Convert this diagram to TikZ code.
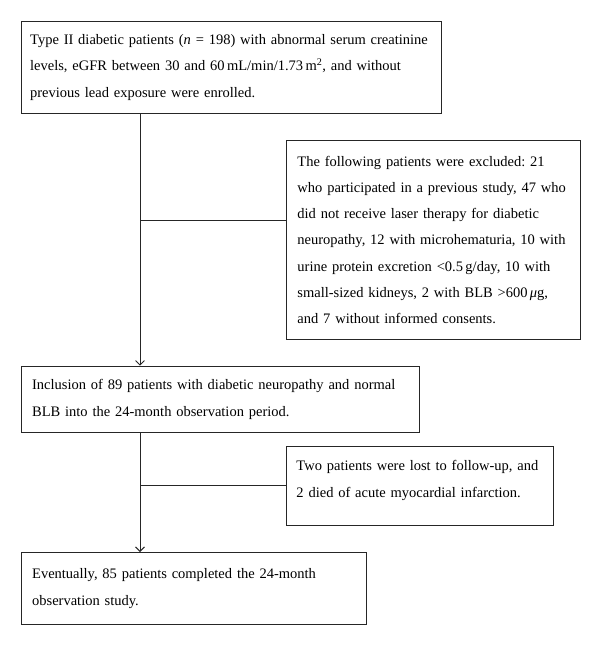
\documentclass[tikz,border=0pt]{standalone}
\usepackage{fontspec}
\setmainfont{Liberation Serif}
\usetikzlibrary{arrows.meta}

\tikzset{
  flowbox/.style={draw=black!85, line width=0.9pt, anchor=north west, align=left,
    inner xsep=11pt, inner ysep=0pt, font=\fontsize{14.5}{26.3}\selectfont\frenchspacing},
  flowline/.style={draw=black!85, line width=0.9pt},
  flowarrow/.style={flowline, -{Straight Barb[length=4.5pt,width=9pt,line width=0.9pt]}}
}

\begin{document}
\begin{tikzpicture}[x=1pt,y=-1pt]
    \useasboundingbox (0,0) rectangle (600,645);

    % boxes
    \node[flowbox, inner xsep=9pt, text width=402pt, minimum width=420pt, minimum height=92.3pt] (enrolled) at (20.7,20.7)
      {Type II diabetic patients (\textit{n} = 198) with abnormal serum creatinine\\
       levels, eGFR between 30 and 60\,mL/min/1.73\,m\textsuperscript{2}, and without\\
       previous lead exposure were enrolled.};
    \node[flowbox, text width=271.7pt, minimum width=293.7pt, minimum height=199pt] (excluded) at (286,140)
      {The following patients were excluded: 21\\
       who participated in a previous study, 47 who\\
       did not receive laser therapy for diabetic\\
       neuropathy, 12 with microhematuria, 10 with\\
       urine protein excretion <0.5\,g/day, 10 with\\
       small-sized kidneys, 2 with BLB >600\,\textit{μ}g,\\
       and 7 without informed consents.};
    \node[flowbox, text width=376.6pt, minimum width=398.6pt, minimum height=66.3pt] (included) at (20.7,365.7)
      {Inclusion of 89 patients with diabetic neuropathy and normal\\
       BLB into the 24-month observation period.};
    \node[flowbox, inner xsep=10pt, text width=246.7pt, minimum width=266.7pt, minimum height=79.3pt, text depth=40pt] (lost) at (286,445.7)
      {Two patients were lost to follow-up, and\\
       2 died of acute myocardial infarction.};
    \node[flowbox, text width=323.3pt, minimum width=345.3pt, minimum height=72pt] (completed) at (20.7,552)
      {Eventually, 85 patients completed the 24-month\\
       observation study.};

    % branch points
    \coordinate (split1) at (140,220);
    \coordinate (split2) at (split1 |- lost.west);

    % connectors
    \draw[flowarrow] (enrolled.south -| split1) -- (included.north -| split1);
    \draw[flowline] (split1) -- (split1 -| excluded.west);
    \draw[flowarrow] (included.south -| split1) -- (completed.north -| split1);
    \draw[flowline] (split2) -- (lost.west);

\end{tikzpicture}
\end{document}
